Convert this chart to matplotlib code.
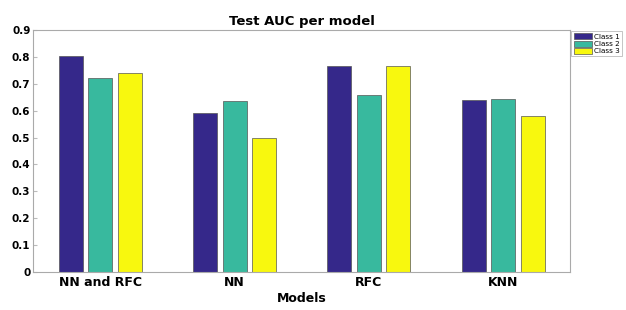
import matplotlib.pyplot as plt
import numpy as np

models = ['NN and RFC', 'NN', 'RFC', 'KNN']
class1 = [0.805, 0.590, 0.765, 0.640]
class2 = [0.722, 0.635, 0.657, 0.643]
class3 = [0.740, 0.500, 0.768, 0.580]
labels = ['Class 1', 'Class 2', 'Class 3']
colors = ['#35288a', '#38b99e', '#f8f80e']

fig = plt.figure(figsize=(6.26, 3.10), dpi=100)
ax = fig.add_axes([0.053, 0.123, 0.858, 0.78])

x = np.arange(1, len(models) + 1)
w = 0.18
step = 0.22
for i, (vals, c, lab) in enumerate(zip([class1, class2, class3], colors, labels)):
    ax.bar(x + (i - 1) * step, vals, width=w, color=c, edgecolor='#555555',
           linewidth=0.5, label=lab)

ax.set_xlim(0.5, 4.5)
ax.set_ylim(0, 0.9)
ax.set_yticks(np.arange(0, 0.91, 0.1))
ax.set_yticklabels(['0'] + ['%.1f' % v for v in np.arange(0.1, 0.91, 0.1)])
ax.set_xticks(x)
ax.set_xticklabels(models)
for lab in ax.get_xticklabels():
    lab.set_fontweight('bold')
    lab.set_fontsize(9)
for lab in ax.get_yticklabels():
    lab.set_fontweight('bold')
    lab.set_fontsize(7.5)
ax.tick_params(axis='both', direction='in', length=3, color='#bbbbbb', pad=2)
ax.tick_params(axis='x', length=0, pad=3)
for s in ax.spines.values():
    s.set_color('#aaaaaa')
    s.set_linewidth(0.8)

ax.set_title('Test AUC per model', fontweight='bold', fontsize=9.5, pad=4)
ax.set_xlabel('Models', fontweight='bold', fontsize=9, labelpad=2)

leg = ax.legend(loc='upper left', bbox_to_anchor=(1.0, 1.0), fontsize=5.2,
                frameon=True, fancybox=False, borderpad=0.3, labelspacing=0.1,
                handlelength=2.6, handleheight=0.9, handletextpad=0.3,
                borderaxespad=0.15)
leg.get_frame().set_edgecolor('#aaaaaa')
leg.get_frame().set_linewidth(0.6)

fig.savefig('out.png', dpi=100)
